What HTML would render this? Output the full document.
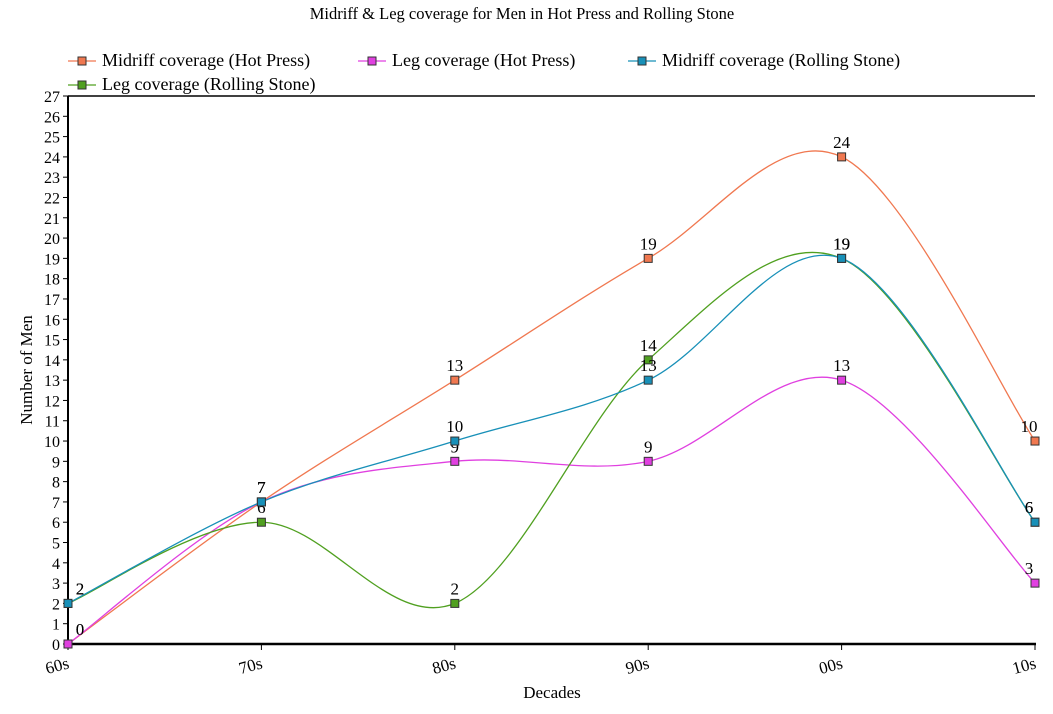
<!DOCTYPE html>
<html><head><meta charset="utf-8"><style>
body{margin:0;background:#fff;}
svg text{font-family:"Liberation Serif",serif;fill:#000;}
</style></head><body>
<svg id="c" width="1053" height="709">
<text x="522" y="19" font-size="16.5" text-anchor="middle">Midriff &amp; Leg coverage for Men in Hot Press and Rolling Stone</text>
<g id="legend"></g>
<line x1="68" y1="96" x2="1035" y2="96" stroke="#000" stroke-width="1.5"/>
<line x1="68" y1="96" x2="68" y2="645" stroke="#000" stroke-width="2"/>
<line x1="67" y1="644" x2="1036" y2="644" stroke="#000" stroke-width="2.5"/>
<g id="yt"></g><g id="xt"></g><g id="series"></g>
<text x="552" y="698" font-size="17" text-anchor="middle">Decades</text>
<text transform="translate(32,370) rotate(-90)" font-size="17" text-anchor="middle">Number of Men</text>
</svg>
<script>
const categories=["60s","70s","80s","90s","00s","10s"];
const seriesNames=["Midriff coverage (Hot Press)","Leg coverage (Hot Press)","Midriff coverage (Rolling Stone)","Leg coverage (Rolling Stone)"];
const midriffHP=[0,7,13,19,24,10];
const legHP=[0,7,9,9,13,3];
const midriffRS=[2,7,10,13,19,6];
const legRS=[2,6,2,14,19,6];
const yTicks=[0,1,2,3,4,5,6,7,8,9,10,11,12,13,14,15,16,17,18,19,20,21,22,23,24,25,26,27];
const colors=["#f07850","#e040e0","#1890b8","#50a020"];
const NS="http://www.w3.org/2000/svg";
const X0=68,X1=1035,Y0=644,Y1=96,YMAX=27;
const xs=i=>X0+(X1-X0)*i/(categories.length-1);
const ys=v=>Y0-(Y0-Y1)*v/YMAX;
function mk(tag,attrs,parent,txt){const e=document.createElementNS(NS,tag);for(const k in attrs)e.setAttribute(k,attrs[k]);if(txt!==undefined)e.textContent=txt;parent.appendChild(e);return e;}
const yt=document.getElementById('yt');
yTicks.forEach(v=>{
 const l=mk('line',{x1:63,x2:68,y1:ys(v),y2:ys(v),stroke:'#000'},yt);
 
 
 const t=mk('text',{x:60,y:ys(v)+6,'font-size':16,'text-anchor':'end'},yt,v);
 
 
});
const xt=document.getElementById('xt');
categories.forEach((c,i)=>{
 const x=xs(i);
 const l=mk('line',{x1:x,x2:x,y1:644,y2:650,stroke:'#000'},xt);
 
 
 const t=mk('text',{transform:`translate(${x+2},${668}) rotate(-15)`,'font-size':17,'text-anchor':'end'},xt,c);
 
 
});
function path(pts){
 let d=`M${pts[0][0]},${pts[0][1]}`;
 for(let i=0;i<pts.length-1;i++){
  const p0=pts[i-1]||pts[i],p1=pts[i],p2=pts[i+1],p3=pts[i+2]||p2;
  const c1=[p1[0]+(p2[0]-p0[0])/6,p1[1]+(p2[1]-p0[1])/6];
  const c2=[p2[0]-(p3[0]-p1[0])/6,p2[1]-(p3[1]-p1[1])/6];
  d+=` C${c1[0]},${c1[1]} ${c2[0]},${c2[1]} ${p2[0]},${p2[1]}`;
 }
 return d;
}
const all=[midriffHP,legHP,midriffRS,legRS];
const sg=document.getElementById('series');
const order=[0,1,3,2];
order.forEach(si=>{
 const vals=all[si];
 const g=mk('g',{},sg);
 
 
 const pts=vals.map((v,i)=>[xs(i),ys(v)]);
 const p=mk('path',{d:path(pts),fill:'none',stroke:colors[si],'stroke-width':1.3},g);
 
 
 pts.forEach((q,i)=>{
  const r=mk('rect',{x:q[0]-4,y:q[1]-4,width:8,height:8,fill:colors[si],stroke:'#333','stroke-width':1},g);
  
  
  const t=mk('text',{x:q[0]+(i==0?12:(i==5?-6:0)),y:q[1]-9,'font-size':17,'text-anchor':'middle'},g,vals[i]);
  
  
 });
});
const lg=document.getElementById('legend');
const lpos=[[68,66],[358,66],[628,66],[68,90]];
seriesNames.forEach((n,i)=>{
 const [x,y]=lpos[i];
 const g=mk('g',{},lg);
 
 
 mk('line',{x1:x,x2:x+28,y1:y-5,y2:y-5,stroke:colors[i],'stroke-width':1.3},g);
 mk('rect',{x:x+10,y:y-9,width:8,height:8,fill:colors[i],stroke:'#333'},g);
 mk('text',{x:x+34,y:y,'font-size':18},g,n);
});
</script>
</body></html>
